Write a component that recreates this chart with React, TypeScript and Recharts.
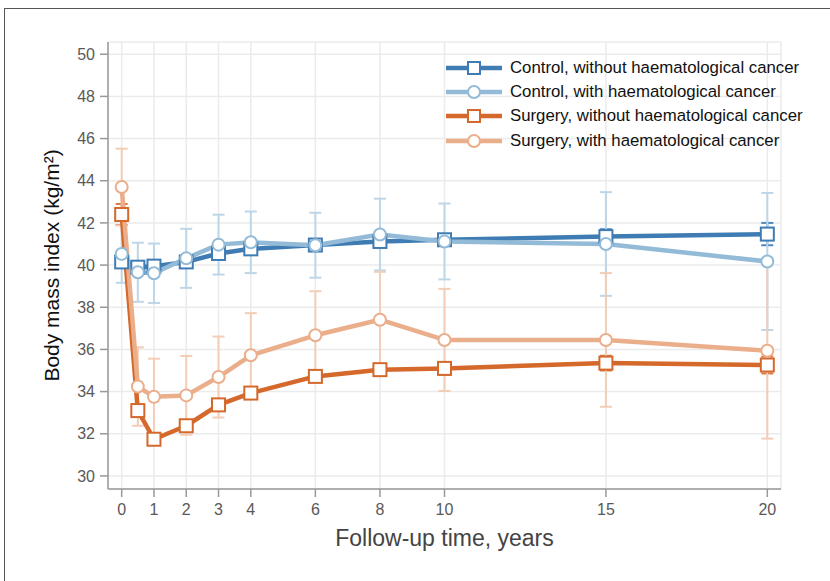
import {
  CartesianGrid,
  ErrorBar,
  Label,
  Legend,
  Line,
  LineChart,
  XAxis,
  YAxis,
} from "recharts";

const FONT = '"Liberation Sans", Arial, Helvetica, sans-serif';

const years = [0, 0.5, 1, 2, 3, 4, 6, 8, 10, 15, 20];
const xTicks = [0, 1, 2, 3, 4, 6, 8, 10, 15, 20];
const yTicks = [30, 32, 34, 36, 38, 40, 42, 44, 46, 48, 50];

const controlWithout = [40.15, 39.9, 39.95, 40.15, 40.55, 40.77, 40.95, 41.12, 41.2, 41.35, 41.47];
const controlWithoutErr = [0.2, 0.2, 0.2, 0.15, 0.15, 0.15, 0.2, 0.2, 0.25, 0.35, 0.53];
const controlWith = [40.53, 39.66, 39.61, 40.32, 40.97, 41.08, 40.94, 41.45, 41.12, 41.0, 40.17];
const controlWithErr = [1.37, 1.4, 1.41, 1.4, 1.42, 1.46, 1.54, 1.7, 1.8, 2.46, 3.25];
const surgeryWithout = [42.4, 33.1, 31.74, 32.38, 33.37, 33.93, 34.72, 35.04, 35.1, 35.35, 35.26];
const surgeryWithoutErr = [0.5, 0.25, 0.2, 0.2, 0.25, 0.25, 0.25, 0.25, 0.3, 0.35, 0.4];
const surgeryWith = [43.7, 34.24, 33.75, 33.82, 34.69, 35.72, 36.67, 37.41, 36.45, 36.45, 35.94];
const surgeryWithErr = [1.82, 1.86, 1.81, 1.87, 1.92, 2.0, 2.09, 2.27, 2.42, 3.17, 4.17];

type Series = {
  key: string;
  name: string;
  color: string;
  errColor: string;
  marker: "square" | "circle";
};

const SERIES: Series[] = [
  { key: "cwo", name: "Control, without haematological cancer", color: "#3f7cb3", errColor: "#4f88bd", marker: "square" },
  { key: "cw", name: "Control, with haematological cancer", color: "#93bbd7", errColor: "#bdd6e8", marker: "circle" },
  { key: "swo", name: "Surgery, without haematological cancer", color: "#d4692b", errColor: "#d97a43", marker: "square" },
  { key: "sw", name: "Surgery, with haematological cancer", color: "#ebae8b", errColor: "#f3cdb6", marker: "circle" },
];

const data = years.map((t, i) => ({
  t,
  cwo: controlWithout[i],
  cwoE: controlWithoutErr[i],
  cw: controlWith[i],
  cwE: controlWithErr[i],
  swo: surgeryWithout[i],
  swoE: surgeryWithoutErr[i],
  sw: surgeryWith[i],
  swE: surgeryWithErr[i],
}));

const makeDot = (s: Series) => (props: any) => {
  const { cx, cy, index } = props;
  if (cx == null || cy == null) return <g key={`${s.key}-${index}`} />;
  if (s.marker === "square") {
    return (
      <rect
        key={`${s.key}-${index}`}
        x={cx - 6.5}
        y={cy - 6.5}
        width={13}
        height={13}
        fill="#fff"
        stroke={s.color}
        strokeWidth={2}
      />
    );
  }
  return (
    <circle key={`${s.key}-${index}`} cx={cx} cy={cy} r={6} fill="#fff" stroke={s.color} strokeWidth={2} />
  );
};

function LegendBox() {
  return (
    <div style={{ fontFamily: FONT, fontSize: 16.8, color: "#111" }}>
      {SERIES.map((s) => (
        <div key={s.key} style={{ display: "flex", alignItems: "center", height: 24.2, lineHeight: "24px" }}>
          <svg width={56} height={16} style={{ marginRight: 8, flex: "none" }}>
            <line x1={0} x2={56} y1={8} y2={8} stroke={s.color} strokeWidth={4.5} />
            {s.marker === "square" ? (
              <rect x={22} y={2} width={12} height={12} fill="#fff" stroke={s.color} strokeWidth={2} />
            ) : (
              <circle cx={28} cy={8} r={6} fill="#fff" stroke={s.color} strokeWidth={2} />
            )}
          </svg>
          <span style={{ whiteSpace: "nowrap" }}>{s.name}</span>
        </div>
      ))}
    </div>
  );
}

const XTitle = (props: any) => {
  const vb = props.viewBox;
  return (
    <text x={vb.x + vb.width / 2} y={vb.y + 57} textAnchor="middle" fontFamily={FONT} fontSize={23} fill="#444">
      Follow-up time, years
    </text>
  );
};

const YTitle = (props: any) => {
  const vb = props.viewBox;
  const x = 59;
  const y = vb.y + vb.height / 2;
  return (
    <text
      x={x}
      y={y}
      transform={`rotate(-90 ${x} ${y})`}
      textAnchor="middle"
      fontFamily={FONT}
      fontSize={21}
      fill="#111"
    >
      Body mass index (kg/m²)
    </text>
  );
};

const tickStyle = { fill: "#595959", fontSize: 16, fontFamily: FONT };
const axisStroke = { stroke: "#999", strokeWidth: 1.5 };

export default function App() {
  return (
    <div
      style={{
        position: "absolute",
        left: 0,
        top: 0,
        width: 830,
        height: 581,
        overflow: "hidden",
        background: "#fff",
      }}
    >
      <div
        style={{
          position: "absolute",
          left: 4,
          top: 8,
          right: -10,
          bottom: -10,
          borderTop: "1.5px solid #555",
          borderLeft: "1.5px solid #555",
        }}
      />
      <LineChart width={830} height={581} data={data} margin={{ top: 42, right: 49, bottom: 52, left: 48 }}>
        <CartesianGrid stroke="#ebebeb" strokeWidth={1.5} />
        <XAxis
          type="number"
          dataKey="t"
          domain={[-0.424, 20.424]}
          ticks={xTicks}
          interval={0}
          allowDataOverflow
          height={40}
          tickSize={8}
          tickMargin={7}
          tick={tickStyle}
          axisLine={axisStroke}
          tickLine={axisStroke}
        >
          <Label content={XTitle} />
        </XAxis>
        <YAxis
          type="number"
          domain={[29.38, 50.58]}
          ticks={yTicks}
          interval={0}
          allowDataOverflow
          width={60}
          tickSize={8}
          tickMargin={5}
          tick={tickStyle}
          axisLine={axisStroke}
          tickLine={axisStroke}
        >
          <Label content={YTitle} />
        </YAxis>
        {SERIES.map((s) => (
          <Line
            key={`err-${s.key}`}
            dataKey={s.key}
            stroke="none"
            dot={false}
            activeDot={false}
            legendType="none"
            isAnimationActive={false}
          >
            <ErrorBar dataKey={`${s.key}E`} width={6} strokeWidth={2} stroke={s.errColor} direction="y" />
          </Line>
        ))}
        {SERIES.map((s) => (
          <Line
            key={s.key}
            type="linear"
            dataKey={s.key}
            name={s.name}
            stroke={s.color}
            strokeWidth={4.5}
            strokeLinejoin="round"
            dot={makeDot(s)}
            activeDot={false}
            isAnimationActive={false}
          />
        ))}
        <Legend
          content={<LegendBox />}
          layout="horizontal"
          verticalAlign="middle"
          align="center"
          wrapperStyle={{ left: 446, top: 56, width: 380 }}
        />
      </LineChart>
    </div>
  );
}
